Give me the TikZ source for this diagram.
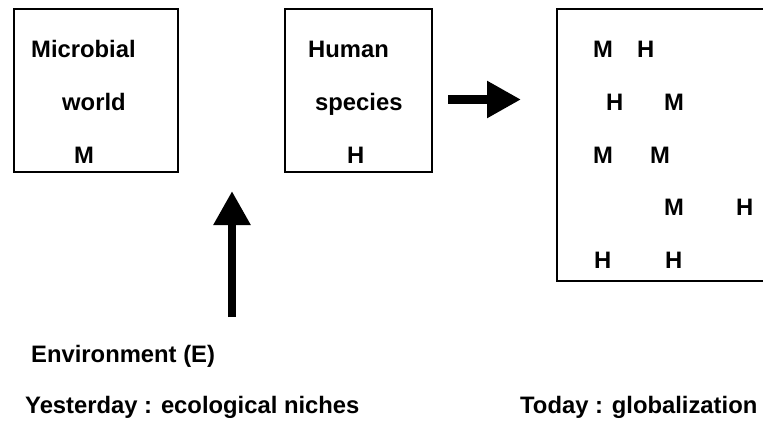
\documentclass[tikz,border=0pt]{standalone}
\usepackage{fontspec}
\setmainfont{Liberation Sans}
\usetikzlibrary{arrows.meta}
\begin{document}
\begin{tikzpicture}[x=1pt,y=-1pt,
  lbl/.style={inner sep=0pt,anchor=base west,font=\fontsize{23.8}{28}\selectfont\bfseries},
  boxline/.style={draw=black,line width=1.4pt},
  fatarrow/.style={line width=8.5pt,-{Triangle[width=35pt,length=34pt]}}]
\clip (0,0) rectangle (763,421);
\useasboundingbox (0,0) rectangle (763,421);
% boxes
\draw[boxline] (14,9) rectangle (178,172);
\draw[boxline] (285,9) rectangle (432,172);
\draw[boxline] (557,9) rectangle (800,281);
% box 1
\node[lbl] (mic) at (31,57) {Microbial};
\node[lbl] (wor) at (62,110) {world};
\node[lbl] (m1) at (74,163) {M};
% box 2
\node[lbl] (hum) at (308,57) {Human};
\node[lbl] (spe) at (315,110) {species};
\node[lbl] (h1) at (347,163) {H};
% box 3
\node[lbl] (r1a) at (593,57) {M};
\node[lbl] (r1b) at (637,57) {H};
\node[lbl] (r2a) at (606,110) {H};
\node[lbl] (r2b) at (664,110) {M};
\node[lbl] (r3a) at (593,163) {M};
\node[lbl] (r3b) at (650,163) {M};
\node[lbl] (r4a) at (664,215) {M};
\node[lbl] (r4b) at (736,215) {H};
\node[lbl] (r5a) at (594,268) {H};
\node[lbl] (r5b) at (665,268) {H};
% bottom texts
\node[lbl] (env) at (31,362) {Environment (E)};
\node[lbl] (yes) at (25,413) {Yesterday : ecological niches};
\node[lbl] (tod) at (520,413) {Today : globalization};
% arrows
\coordinate (va) at (232,317);
\coordinate (vb) at (232,191);
\coordinate (ha) at (448,99.5);
\coordinate (hb) at (521,99.5);
\draw[fatarrow] (va) -- (vb);
\draw[fatarrow] (ha) -- (hb);
\end{tikzpicture}
\end{document}
